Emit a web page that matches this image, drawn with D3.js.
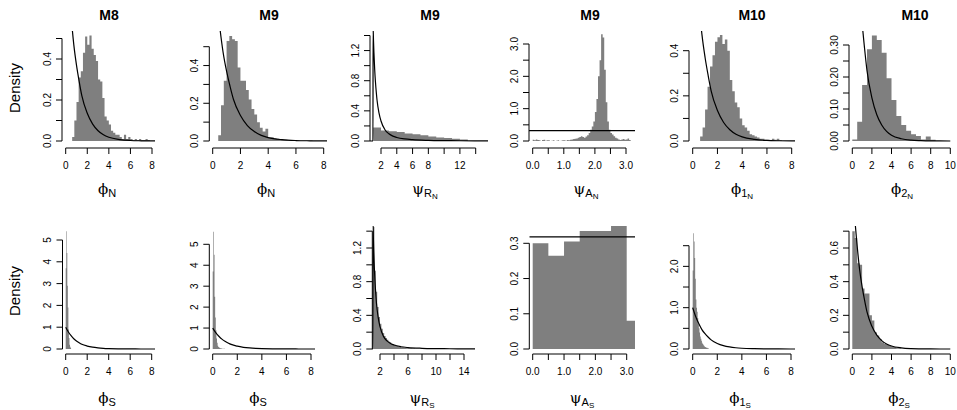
<!DOCTYPE html>
<html>
<head>
<meta charset="utf-8">
<script src="https://cdn.jsdelivr.net/npm/d3@7"></script>
<style>
  body { margin: 0; background: #fff; }
  svg text { font-family: "Liberation Sans", Arial, sans-serif; fill: #000; }
  svg text .greek { font-family: "DejaVu Serif", "Liberation Serif", serif; }
</style>
</head>
<body>
<div id="chart-area"></div>
<script>
// Posterior histograms (density per bin)
const m8PhiN = [0.02, 0.1, 0.19, 0.31, 0.34, 0.43, 0.51, 0.47, 0.515, 0.45, 0.42, 0.39, 0.3, 0.29, 0.21, 0.12,
  0.1, 0.08, 0.05, 0.04, 0.03, 0.03, 0.02, 0.01, 0.03, 0.01, 0.02, 0.01, 0.005, 0.01, 0.005, 0.01, 0.005, 0.005, 0.01, 0.005];
const m9PhiN = [0.03, 0.19, 0.32, 0.53, 0.557, 0.54, 0.53, 0.39, 0.32, 0.32, 0.27, 0.22, 0.17, 0.14, 0.1, 0.07,
  0.05, 0.065, 0.02, 0.02, 0.015, 0.012, 0.01, 0.007, 0.006, 0.004, 0.003, 0.003, 0.002, 0.002, 0.002, 0.002, 0.002, 0.002];
const m9PsiRN = [0.18, 0.14, 0.13, 0.12, 0.1, 0.09, 0.075, 0.06, 0.045, 0.04, 0.03, 0.02];
const m9PsiAN = [0.04, 0.02, 0.05, 0.03, 0.02, 0, 0.03, 0.04, 0.01, 0.02,
  0.02, 0, 0.01, 0.02, 0, 0.01, 0.02, 0, 0.01, 0.02,
  0.02, 0.01, 0.03, 0.02, 0.04, 0.05, 0.06, 0.07, 0.08, 0.1,
  0.12, 0.15, 0.12, 0.1, 0.14, 0.18, 0.25, 0.35, 0.45, 0.6,
  0.9, 1.3, 2.0, 2.5, 3.3, 3.2, 2.2, 1.2, 0.6, 0.35,
  0.25, 0.2, 0.15, 0.1, 0.08, 0.05, 0.03, 0.05, 0.06, 0.04,
  0.05, 0.08, 0.03];
const m10Phi1N = [0.02, 0.06, 0.14, 0.24, 0.33, 0.38, 0.44, 0.46, 0.47, 0.43, 0.45, 0.4, 0.27, 0.22, 0.17, 0.15,
  0.1, 0.07, 0.06, 0.045, 0.03, 0.025, 0.02, 0.015, 0.01, 0.01, 0.005, 0.005, 0.003, 0.01, 0.005, 0.01, 0.003];
const m10Phi2N = [0.005, 0.06, 0.175, 0.287, 0.33, 0.316, 0.276, 0.196, 0.128, 0.078, 0.05, 0.032, 0.021, 0.016,
  0.005, 0.014, 0.004];
const m8PhiS = [3.7, 5.4, 4.4, 2.9, 1.9, 0.9, 0.5, 0.2, 0.1, 0.05];
const m9PhiS = [3.7, 5.6, 4.5, 2.5, 1.5, 0.9, 0.5, 0.3, 0.15, 0.1, 0.08, 0.05, 0.04, 0.03, 0.02, 0.02, 0, 0.01, 0.01, 0.01];
const m9PsiRS = [1.45, 0.93, 0.68, 0.5, 0.38, 0.3, 0.24, 0.19, 0.155, 0.13, 0.11, 0.09, 0.08, 0.065, 0.06, 0.05,
  0.04, 0.035, 0.03, 0.025, 0.02, 0.02, 0.015, 0.015, 0.01, 0.01, 0.01, 0.008, 0.006, 0.005];
const m9PsiAS = [0.3, 0.265, 0.305, 0.335, 0.335, 0.37, 0.08];
const m10Phi1S = [1.9, 2.8, 2.6, 2.2, 1.7, 1.2, 1.0, 0.9, 0.75, 0.6, 0.5, 0.4, 0.3, 0.25, 0.2, 0.15, 0.12, 0.1,
  0.08, 0.06, 0.05, 0.04, 0.03, 0.03, 0.02, 0.02];
const m10Phi2S = [0.7, 0.66, 0.51, 0.5, 0.36, 0.33, 0.33, 0.2, 0.17, 0.1, 0.08, 0.06, 0.04, 0.03, 0.025, 0.02,
  0.015, 0.012, 0.005, 0.005];

// Prior densities: [x, density]
const expPrior = [[0, 1], [0.25, 0.78], [0.5, 0.61], [0.75, 0.47], [1, 0.37], [1.25, 0.29], [1.5, 0.22],
  [2, 0.135], [2.5, 0.082], [3, 0.05], [3.5, 0.03], [4, 0.018], [5, 0.007], [6, 0.0025], [7, 0.001], [8, 0.0003], [10, 0]];
const paretoPrior = [[0.4, 0], [0.98, 0], [1, 1.5], [1.05, 1.33], [1.1, 1.18], [1.2, 0.95], [1.3, 0.78], [1.4, 0.65],
  [1.5, 0.54], [1.75, 0.37], [2, 0.265], [2.5, 0.15], [3, 0.096], [3.5, 0.065], [4, 0.047], [5, 0.027], [6, 0.017],
  [8, 0.0083], [10, 0.0047], [12, 0.003], [14, 0.002], [16, 0.0015]];
const unifPrior = 0.318;

// Tick values
const ticksPhi8 = [0, 2, 4, 6, 8];
const ticksPhi10 = [0, 2, 4, 6, 8, 10];
const ticksPsiR = [2, 4, 6, 8, 10, 12, 14];
const ticksPsiA = [0, 0.5, 1, 1.5, 2, 2.5, 3];
const labelsPsiRN = [2, 4, 6, 8, 12];
const labelsPsiRS = [2, 6, 10, 14];
const labelsPsiA = [0, 1, 2, 3];

const titles = ['M8', 'M9', 'M9', 'M9', 'M10', 'M10'];

const width = 957;
const height = 410;

const svg = d3.select('#chart-area')
  .append('svg')
  .attr('width', width)
  .attr('height', height)
  .attr('style', 'background-color: white');

const rows = [
  { top: 31, bottom: 148, titleY: 20, labY: 194, densY: 88 },
  { top: 226, bottom: 354, titleY: null, labY: 403, densY: 291 }
];

const panels = [
  // top row
  { row: 0, L: 62, R: 155, xd: [0, 8], xr: [65.7, 152], yd: [0, 0.4], yr: [141, 59],
    dens: m8PhiN, from: 0.6, bw: 0.2, prior: 'exp', xt: ticksPhi8, xl: ticksPhi8, xf: 'd',
    yt: d3.range(0, 0.51, 0.1), yl: [0, 0.2, 0.4], yf: '.1f', lab: ['ϕ', 'N'], titleX: 109, labX: 107 },
  { row: 0, L: 209.3, R: 327, xd: [0, 8], xr: [212.7, 323.7], yd: [0, 0.5], yr: [141, 46.7],
    dens: m9PhiN, from: 0.4, bw: 0.2, prior: 'exp', xt: ticksPhi8, xl: ticksPhi8, xf: 'd',
    yt: d3.range(0, 0.51, 0.1), yl: [0, 0.2, 0.4], yf: '.1f', lab: ['ϕ', 'N'], titleX: 269, labX: 266 },
  { row: 0, L: 370, R: 488, xd: [2, 14], xr: [381, 475.7], yd: [0, 1.4], yr: [141, 35.5],
    dens: m9PsiRN, from: 1, bw: 1, prior: 'pareto', xt: ticksPsiR, xl: labelsPsiRN, xf: 'd',
    yt: d3.range(0, 1.41, 0.2), yl: [0, 0.4, 0.8, 1.2], yf: '.1f', lab: ['ψ', 'R', 'N'], titleX: 430, labX: 425 },
  { row: 0, L: 529, R: 635, xd: [0, 3], xr: [532.7, 626], yd: [0, 3], yr: [141, 44],
    dens: m9PsiAN, from: 0, bw: 0.05, prior: 'unif', xt: ticksPsiA, xl: labelsPsiA, xf: '.1f',
    yt: d3.range(0, 3.01, 0.5), yl: [0, 1, 2, 3], yf: '.1f', lab: ['ψ', 'A', 'N'], titleX: 590, labX: 586 },
  { row: 0, L: 689, R: 795, xd: [0, 8], xr: [692.7, 791.7], yd: [0, 0.4], yr: [141, 50.7],
    dens: m10Phi1N, from: 0.6, bw: 0.2, prior: 'exp', xt: ticksPhi8, xl: ticksPhi8, xf: 'd',
    yt: d3.range(0, 0.41, 0.1), yl: [0, 0.2, 0.4], yf: '.1f', lab: ['ϕ', '1', 'N'], titleX: 752, labX: 742 },
  { row: 0, L: 849, R: 955, xd: [0, 10], xr: [852.3, 950.3], yd: [0, 0.3], yr: [141, 45],
    dens: m10Phi2N, from: 0, bw: 0.5, prior: 'exp', xt: ticksPhi10, xl: ticksPhi10, xf: 'd',
    yt: d3.range(0, 0.301, 0.05), yl: [0, 0.1, 0.2, 0.3], yf: '.2f', lab: ['ϕ', '2', 'N'], titleX: 915, labX: 902 },
  // bottom row
  { row: 1, L: 62.5, R: 155, xd: [0, 8], xr: [65.7, 151.7], yd: [0, 5], yr: [349, 240],
    dens: m8PhiS, from: 0, bw: 0.05, prior: 'exp', xt: ticksPhi8, xl: ticksPhi8, xf: 'd',
    yt: d3.range(0, 5.1, 1), yl: [0, 1, 2, 3, 4, 5], yf: 'd', lab: ['ϕ', 'S'], labX: 107 },
  { row: 1, L: 209.3, R: 315, xd: [0, 8], xr: [212.7, 311], yd: [0, 5], yr: [349, 244.3],
    dens: m9PhiS, from: 0, bw: 0.05, prior: 'exp', xt: ticksPhi8, xl: ticksPhi8, xf: 'd',
    yt: d3.range(0, 5.1, 1), yl: [0, 1, 2, 3, 4, 5], yf: 'd', lab: ['ϕ', 'S'], labX: 258 },
  { row: 1, L: 372.3, R: 475, xd: [2, 14], xr: [380, 464], yd: [0, 1.2], yr: [349, 248],
    dens: m9PsiRS, from: 1, bw: 0.2, prior: 'pareto', xt: ticksPsiR, xl: labelsPsiRS, xf: 'd',
    yt: d3.range(0, 1.41, 0.2), yl: [0, 0.4, 0.8, 1.2], yf: '.1f', lab: ['ψ', 'R', 'S'], labX: 422 },
  { row: 1, L: 529.3, R: 635, xd: [0, 3], xr: [532.7, 626.7], yd: [0, 0.3], yr: [349, 243.3],
    dens: m9PsiAS, from: 0, bw: 0.5, prior: 'unif', xt: ticksPsiA, xl: labelsPsiA, xf: '.1f',
    yt: d3.range(0, 0.301, 0.1), yl: [0, 0.1, 0.2, 0.3], yf: '.1f', lab: ['ψ', 'A', 'S'], labX: 582 },
  { row: 1, L: 689, R: 795, xd: [0, 8], xr: [692.7, 791], yd: [0, 2.5], yr: [349, 245.7],
    dens: m10Phi1S, from: 0, bw: 0.05, prior: 'exp', xt: ticksPhi8, xl: ticksPhi8, xf: 'd',
    yt: d3.range(0, 2.51, 0.5), yl: [0, 1, 2], yf: '.1f', lab: ['ϕ', '1', 'S'], labX: 740 },
  { row: 1, L: 849, R: 955, xd: [0, 10], xr: [852.3, 950.3], yd: [0, 0.6], yr: [349, 248],
    dens: m10Phi2S, from: 0, bw: 0.25, prior: 'exp', xt: ticksPhi10, xl: ticksPhi10, xf: 'd',
    yt: d3.range(0, 0.71, 0.1), yl: [0, 0.2, 0.4, 0.6], yf: '.1f', lab: ['ϕ', '2', 'S'], labX: 899 }
];

const near = (arr, v) => arr.some((a) => Math.abs(a - v) < 1e-9);

panels.forEach((p, i) => {
  const row = rows[p.row];
  const x = d3.scaleLinear().domain(p.xd).range(p.xr);
  const y = d3.scaleLinear().domain(p.yd).range(p.yr);
  const g = svg.append('g');

  const clipId = 'clip' + i;
  svg.append('clipPath').attr('id', clipId)
    .append('rect')
    .attr('x', p.L).attr('y', row.top)
    .attr('width', p.R - p.L).attr('height', row.bottom - row.top);

  const plot = g.append('g').attr('clip-path', `url(#${clipId})`);

  // Histogram drawn as one stepped shape so adjacent bars don't show seams
  const steps = p.dens.map((d, k) => [p.from + k * p.bw, d]);
  steps.push([p.from + p.dens.length * p.bw, 0]);
  const histArea = d3.area()
    .x((d) => x(d[0]))
    .y0(y(0))
    .y1((d) => y(d[1]))
    .curve(d3.curveStepAfter);
  plot.append('path')
    .attr('d', histArea(steps))
    .attr('fill', '#7f7f7f');

  // Prior density
  if (p.prior === 'unif') {
    plot.append('line')
      .attr('x1', p.L).attr('x2', p.R)
      .attr('y1', y(unifPrior)).attr('y2', y(unifPrior))
      .attr('stroke', '#000').attr('stroke-width', 1.2);
  } else {
    const pts = p.prior === 'exp' ? expPrior : paretoPrior;
    const line = d3.line()
      .x((d) => x(d[0]))
      .y((d) => y(d[1]))
      .curve(d3.curveMonotoneX);
    plot.append('path')
      .attr('d', line(pts))
      .attr('fill', 'none')
      .attr('stroke', '#000')
      .attr('stroke-width', 1.2);
  }

  // y axis (R style: line spans first..last tick)
  const yFmt = d3.format(p.yf);
  const ya = g.append('g');
  ya.append('line')
    .attr('x1', p.L).attr('x2', p.L)
    .attr('y1', y(p.yt[0])).attr('y2', y(p.yt[p.yt.length - 1]))
    .attr('stroke', '#000');
  ya.selectAll('line.tick').data(p.yt).enter().append('line')
    .attr('class', 'tick')
    .attr('x1', p.L).attr('x2', p.L - 6)
    .attr('y1', (d) => y(d)).attr('y2', (d) => y(d))
    .attr('stroke', '#000');
  ya.selectAll('text').data(p.yt.filter((d) => near(p.yl, d))).enter().append('text')
    .attr('transform', (d) => `translate(${p.L - 15},${y(d)}) rotate(-90)`)
    .attr('text-anchor', 'middle')
    .attr('dy', '0.35em')
    .attr('font-size', '10px')
    .text((d) => yFmt(d));

  // x axis
  const xFmt = d3.format(p.xf);
  const xa = g.append('g');
  xa.append('line')
    .attr('x1', x(p.xt[0])).attr('x2', x(p.xt[p.xt.length - 1]))
    .attr('y1', row.bottom).attr('y2', row.bottom)
    .attr('stroke', '#000');
  xa.selectAll('line.tick').data(p.xt).enter().append('line')
    .attr('class', 'tick')
    .attr('x1', (d) => x(d)).attr('x2', (d) => x(d))
    .attr('y1', row.bottom).attr('y2', row.bottom + 6)
    .attr('stroke', '#000');
  xa.selectAll('text').data(p.xl).enter().append('text')
    .attr('x', (d) => x(d))
    .attr('y', row.bottom + 17)
    .attr('text-anchor', 'middle')
    .attr('dy', '0.35em')
    .attr('font-size', '10px')
    .text((d) => xFmt(d));

  // title
  if (row.titleY !== null) {
    g.append('text')
      .attr('x', p.titleX).attr('y', row.titleY)
      .attr('text-anchor', 'middle')
      .attr('font-size', '14px')
      .attr('font-weight', 'bold')
      .text(titles[i]);
  }

  // x label with subscripts
  const lab = g.append('text')
    .attr('x', p.labX).attr('y', row.labY)
    .attr('text-anchor', 'middle');
  lab.append('tspan').attr('class', 'greek').attr('font-size', '15px').text(p.lab[0]);
  lab.append('tspan').attr('font-size', '11px').attr('dy', 3).text(p.lab[1]);
  if (p.lab[2]) {
    lab.append('tspan').attr('font-size', '8px').attr('dy', 2).text(p.lab[2]);
  }

  // Density label on first column
  if (i % 6 === 0) {
    g.append('text')
      .attr('transform', `translate(20,${row.densY}) rotate(-90)`)
      .attr('text-anchor', 'middle')
      .attr('font-size', '15px')
      .text('Density');
  }
});
</script>
</body>
</html>
